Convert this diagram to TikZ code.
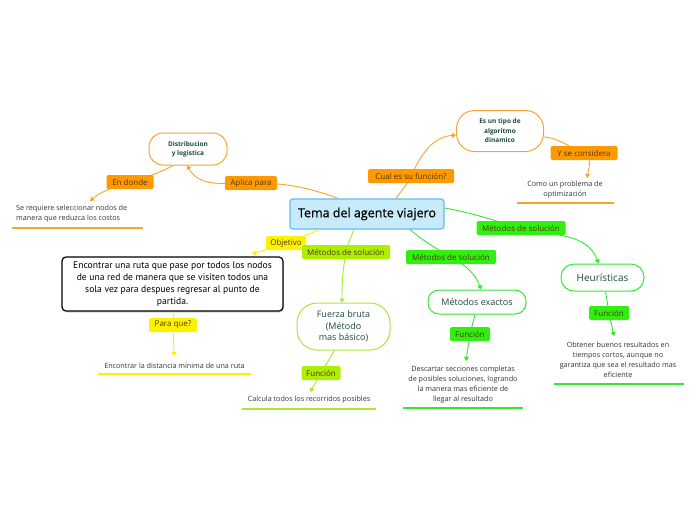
\documentclass[tikz,border=0pt]{standalone}
\usepackage{fontspec}
\setmainfont{Open Sans}
\newfontfamily\titlefont[FakeBold=0.5]{Open Sans}
\newfontfamily\boxfont{PT Sans}
\usetikzlibrary{arrows.meta,shadows,calc}
\definecolor{orngC}{HTML}{FF9900}
\definecolor{orlineC}{HTML}{F7A330}
\definecolor{ylwC}{HTML}{FFF200}
\definecolor{ylineC}{HTML}{FFEE00}
\definecolor{limeC}{HTML}{AEEE00}
\definecolor{limelineC}{HTML}{A8E830}
\definecolor{grnC}{HTML}{33EE11}
\definecolor{grnlineC}{HTML}{33E833}
\definecolor{nodetxt}{HTML}{1E4A3E}
\definecolor{labtxt}{HTML}{4A3A10}
\definecolor{leaftxt}{HTML}{333333}
\definecolor{cfill}{HTML}{C7EBFB}
\definecolor{cdraw}{HTML}{62BDEB}
\tikzset{
  lbl/.style={rounded corners=1.5pt, inner sep=0pt, minimum height=14pt, font=\fontsize{8}{9}\selectfont, text=labtxt},
  pill/.style={draw, fill=white, line width=1pt, text=nodetxt, align=center, inner sep=1pt},
  leaf/.style={font=\fontsize{7.2}{10}\selectfont, text=leaftxt, align=center, inner sep=0pt},
  conn/.style={line width=0.9pt},
  tip/.style={-{Triangle[width=5pt,length=4pt]}},
  ul/.style={line width=1.5pt},
}
\begin{document}
\begin{tikzpicture}[x=1pt,y=-1pt]
\useasboundingbox (0,0) rectangle (696,520);

% central
\node[draw=cdraw, fill=cfill, line width=1.2pt, rounded corners=3pt, minimum width=154pt, minimum height=30pt, font=\titlefont\fontsize{12.5}{14}\selectfont, inner sep=0pt] (c) at (367,214) {Tema del agente viajero};

% nodes
\node[pill, draw=orlineC, rounded corners=14pt, minimum width=78pt, minimum height=32pt, font=\fontsize{6.5}{9}\selectfont\bfseries] (dist) at (188,149) {Distribucion\\y logistica};
\node[pill, draw=orlineC, rounded corners=18pt, minimum width=87pt, minimum height=41pt, font=\fontsize{6.5}{9.5}\selectfont\bfseries] (tipo) at (500,131) {Es un tipo de\\algoritmo\\dinamico};
\node[draw=black, fill=white, line width=1.2pt, rounded corners=4pt, minimum width=221pt, minimum height=54pt, align=center, inner sep=2pt, font=\boxfont\fontsize{9.6}{11.8}\selectfont, drop shadow={shadow xshift=1pt, shadow yshift=-1.5pt, opacity=0.35}] (big) at (172.5,284) {Encontrar una ruta que pase por todos los nodos\\de una red de manera que se visiten todos una\\sola vez para despues regresar al punto de\\partida.};
\node[pill, draw=limelineC, rounded corners=20pt, minimum width=93pt, minimum height=47pt, font=\fontsize{9}{11.5}\selectfont] (fb) at (343.5,326.5) {Fuerza bruta\\(Método\\mas básico)};
\node[pill, draw=grnlineC, rounded corners=11pt, minimum width=98pt, minimum height=24pt, font=\fontsize{9}{11}\selectfont] (ex) at (477,302) {Métodos exactos};
\node[pill, draw=grnlineC, rounded corners=13pt, minimum width=83pt, minimum height=27pt, font=\fontsize{10}{12}\selectfont] (heu) at (602.5,277.5) {Heurísticas};

% leaves
\node[leaf, align=left, anchor=west] (l1) at (16,214) {Se requiere seleccionar nodos de\\manera que reduzca los costos};
\node[leaf] (l2) at (565,190) {Como un problema de\\optimización};
\node[leaf] (l3) at (174.5,366) {Encontrar la distancia mínima de una ruta};
\node[leaf] (l4) at (309,400) {Calcula todos los recorridos posibles};
\node[leaf] (l5) at (463,385) {Descartar secciones completas\\de posibles soluciones, logrando\\la manera mas eficiente de\\llegar al resultado};
\node[leaf] (l6) at (618,360) {Obtener buenos resultados en\\tiempos cortos, aunque no\\garantiza que sea el resultado mas\\eficiente};

% underlines
\draw[ul, orlineC] (12,228) -- (143,228);
\draw[ul, orlineC] (517,203) -- (614,203);
\draw[ul, ylineC] (98,374) -- (251,374);
\draw[ul, limelineC] (242,409) -- (376,409);
\draw[ul, grnlineC] (403,408) -- (523,408);
\draw[ul, grnlineC] (554,384) -- (684,384);

% label positions
\coordinate (aplicaP) at (251,183);
\coordinate (endondeP) at (130,182);
\coordinate (cualP) at (411,176);
\coordinate (yseP) at (584,153);
\coordinate (objP) at (286,243);
\coordinate (paraP) at (173,325);
\coordinate (m1P) at (346,252);
\coordinate (f1P) at (321,373);
\coordinate (m2P) at (451,257);
\coordinate (f2P) at (470,334);
\coordinate (m3P) at (521,228);
\coordinate (f3P) at (609,313);

\coordinate (t1) at (90,201);
\coordinate (t2) at (587,178);
\coordinate (t3) at (252,254);
\coordinate (t4) at (174,356);
\coordinate (t5) at (310,392);
\coordinate (t6) at (466,361);
\coordinate (t7) at (614,336);

% connectors
\draw[conn, orlineC, tip] ($(c.north)+(-29,0)$) to[out=160,in=0] (aplicaP) to[out=180,in=-60] ($(dist.south)+(-1,0)$);
\draw[conn, orlineC, tip] ($(dist.south)+(-15,0)$) to[out=-150,in=20] (endondeP) to[out=200,in=40] (t1);
\draw[conn, orlineC, tip] ($(c.north)+(29,0)$) to[out=55,in=-115] (cualP) to[out=65,in=185] ($(tipo.west)+(0,4)$);
\draw[conn, orlineC, tip] ($(tipo.east)+(0,6)$) to[out=-5,in=160] (yseP) to[out=-30,in=80] (t2);
\draw[conn, ylineC, tip] ($(c.south)+(-47,0)$) -- (objP) -- (t3);
\draw[conn, ylineC, tip] ($(big.south)+(1.5,0)$) -- (paraP) -- (t4);
\draw[conn, limelineC, tip] ($(c.south)+(-13,0)$) to[out=-110,in=80] (m1P) to[out=-100,in=90] ($(fb.north)+(-1.5,0)$);
\draw[conn, limelineC, tip] ($(fb.south)+(-9,0)$) -- (f1P) -- (t5);
\draw[conn, grnlineC, tip] ($(c.south)+(43,0)$) to[out=-40,in=150] (m2P) to[out=-30,in=110] ($(ex.north)+(4,0)$);
\draw[conn, grnlineC, tip] ($(ex.south)+(-2,0)$) -- (f2P) -- (t6);
\draw[conn, grnlineC, tip] ($(c.east)+(0,-6)$) to[out=-10,in=165] (m3P) to[out=-15,in=110] ($(heu.north)+(-4,0)$);
\draw[conn, grnlineC, tip] ($(heu.south)+(3,0)$) -- (f3P) -- (t7);

% labels on top
\node[lbl, fill=orngC, minimum width=52pt] (aplica) at (aplicaP) {Aplica para};
\node[lbl, fill=orngC, minimum width=47pt] (endonde) at (endondeP) {En donde};
\node[lbl, fill=orngC, minimum width=86pt] (cual) at (cualP) {Cual es su función?};
\node[lbl, fill=orngC, minimum width=67pt] (yse) at (yseP) {Y se considera};
\node[lbl, fill=ylwC, minimum width=40pt] (obj) at (objP) {Objetivo};
\node[lbl, fill=ylwC, minimum width=48pt] (para) at (paraP) {Para que?};
\node[lbl, fill=limeC, minimum width=88pt] (m1) at (m1P) {Métodos de solución};
\node[lbl, fill=limeC, minimum width=39pt] (f1) at (f1P) {Función};
\node[lbl, fill=grnC, minimum width=90pt] (m2) at (m2P) {Métodos de solución};
\node[lbl, fill=grnC, minimum width=40pt] (f2) at (f2P) {Función};
\node[lbl, fill=grnC, minimum width=89pt] (m3) at (m3P) {Métodos de solución};
\node[lbl, fill=grnC, minimum width=40pt] (f3) at (f3P) {Función};
\end{tikzpicture}
\end{document}
